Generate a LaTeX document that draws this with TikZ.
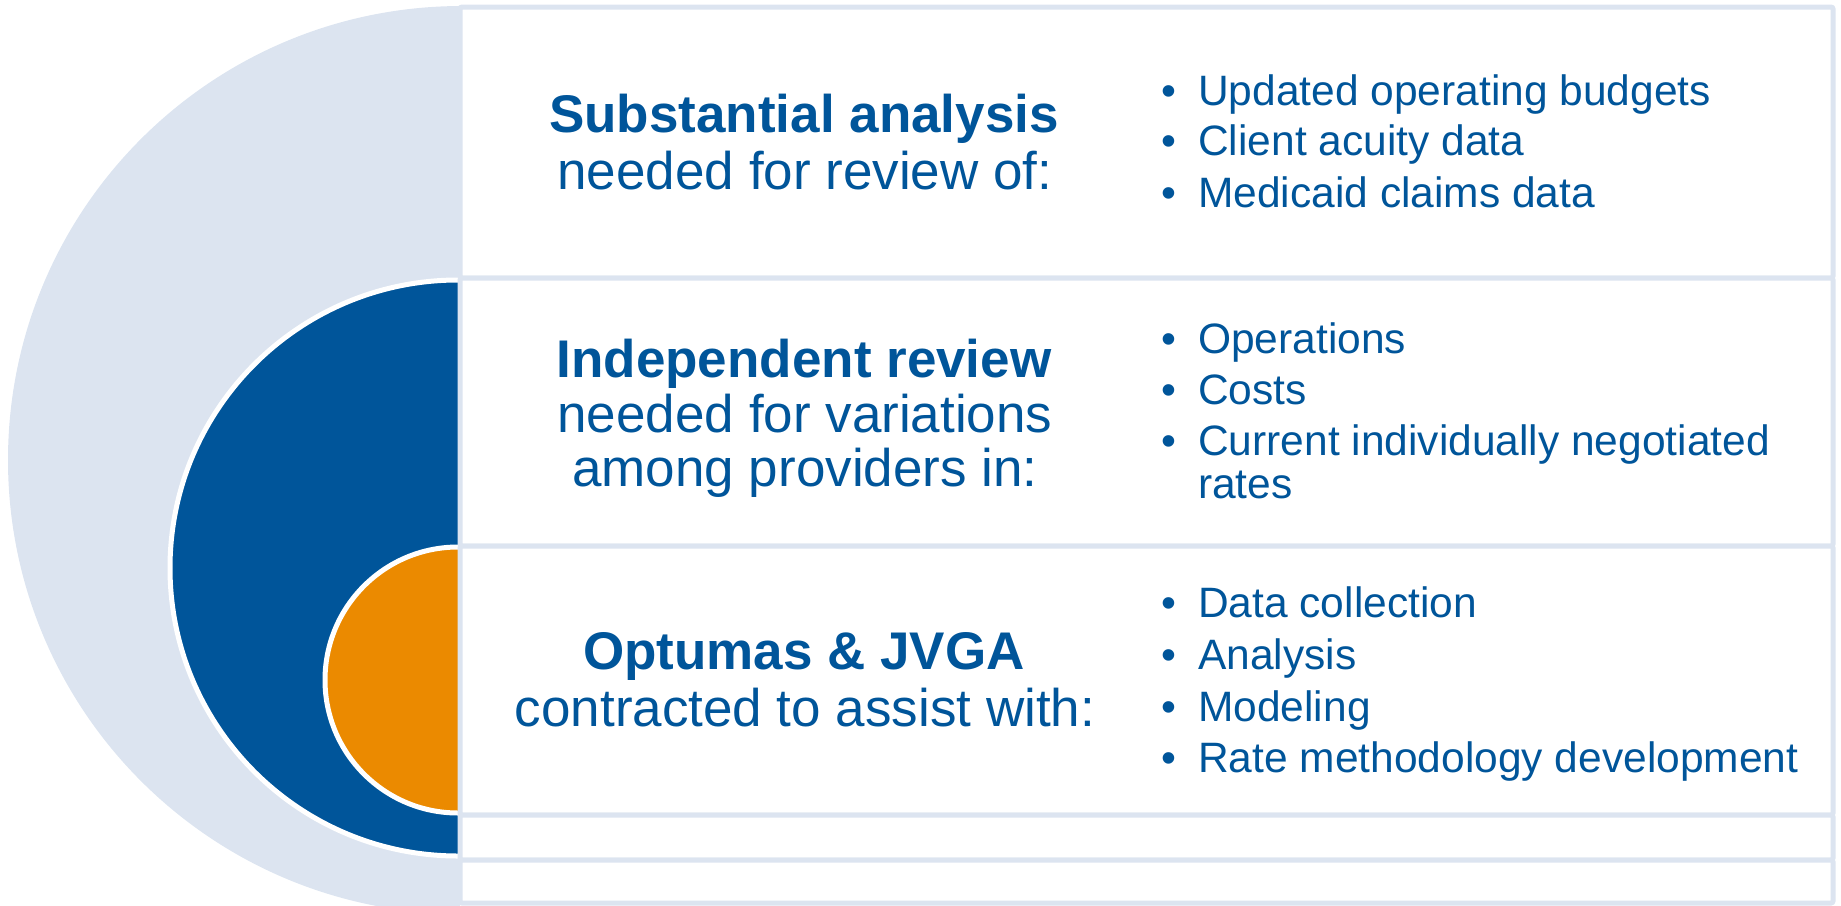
\documentclass[tikz,border=0pt]{standalone}
\usepackage{fontspec}
\setmainfont{Liberation Sans}
\definecolor{paleblue}{HTML}{DCE4F0}
\definecolor{navy}{HTML}{00559A}
\definecolor{amber}{HTML}{EB8A00}
\begin{document}
\begin{tikzpicture}[x=1pt,y=-1pt,
  panel/.style={draw=paleblue, line width=5pt, fill=white, rounded corners=2pt},
  ring/.style={draw=white, line width=5pt},
  headline/.style={anchor=base, inner sep=0, text=navy,
    font=\fontsize{53}{60}\selectfont\bfseries},
  subline/.style={anchor=base, inner sep=0, text=navy,
    font=\fontsize{53}{60}\selectfont},
  bulletdot/.style={anchor=base west, inner sep=0, text=navy,
    font=\fontsize{42.5}{51}\selectfont},
  itemtext/.style={anchor=base west, inner sep=0, text=navy,
    font=\fontsize{42.5}{51}\selectfont}]
\useasboundingbox (0,0) rectangle (1841,905);

% nested half discs on the left
\begin{scope}
  \clip (0,0) rectangle (460,905);
  \fill[paleblue] (462,460) circle[radius=454];
  \fill[navy] (458,568) circle[radius=288];
  \draw[ring] (458,568) circle[radius=288];
  \fill[amber] (458,680) circle[radius=133];
  \draw[ring] (458,680) circle[radius=133];
\end{scope}

% stacked panels
\draw[panel] (460,7) rectangle (1833,278);
\draw[panel] (460,278) rectangle (1833,546);
\draw[panel] (460,546) rectangle (1833,815);
\draw[panel] (460,815) rectangle (1833,860);
\draw[panel] (460,860) rectangle (1833,903);

% first panel
\node[headline] (h1) at (804,132) {Substantial analysis};
\node[subline] (s1) at (805,189) {needed for review of:};
\node[bulletdot] (d1a) at (1161,105) {•};
\node[itemtext] (t1a) at (1198,105) {Updated operating budgets};
\node[bulletdot] (d1b) at (1161,155) {•};
\node[itemtext] (t1b) at (1198,155) {Client acuity data};
\node[bulletdot] (d1c) at (1161,207) {•};
\node[itemtext] (t1c) at (1198,207) {Medicaid claims data};

% second panel
\node[headline] (h2) at (804,377) {Independent review};
\node[subline] (s2a) at (805,432) {needed for variations};
\node[subline] (s2b) at (805,486) {among providers in:};
\node[bulletdot] (d2a) at (1161,353) {•};
\node[itemtext] (t2a) at (1198,353) {Operations};
\node[bulletdot] (d2b) at (1161,404) {•};
\node[itemtext] (t2b) at (1198,404) {Costs};
\node[bulletdot] (d2c) at (1161,455) {•};
\node[itemtext] (t2c) at (1198,455) {Current individually negotiated};
\node[itemtext] (t2d) at (1198,498) {rates};

% third panel
\node[headline] (h3) at (804,669) {Optumas \& JVGA};
\node[subline] (s3) at (805,726) {contracted to assist with:};
\node[bulletdot] (d3a) at (1161,617) {•};
\node[itemtext] (t3a) at (1198,617) {Data collection};
\node[bulletdot] (d3b) at (1161,669) {•};
\node[itemtext] (t3b) at (1198,669) {Analysis};
\node[bulletdot] (d3c) at (1161,721) {•};
\node[itemtext] (t3c) at (1198,721) {Modeling};
\node[bulletdot] (d3d) at (1161,772) {•};
\node[itemtext] (t3d) at (1198,772) {Rate methodology development};
\end{tikzpicture}
\end{document}
